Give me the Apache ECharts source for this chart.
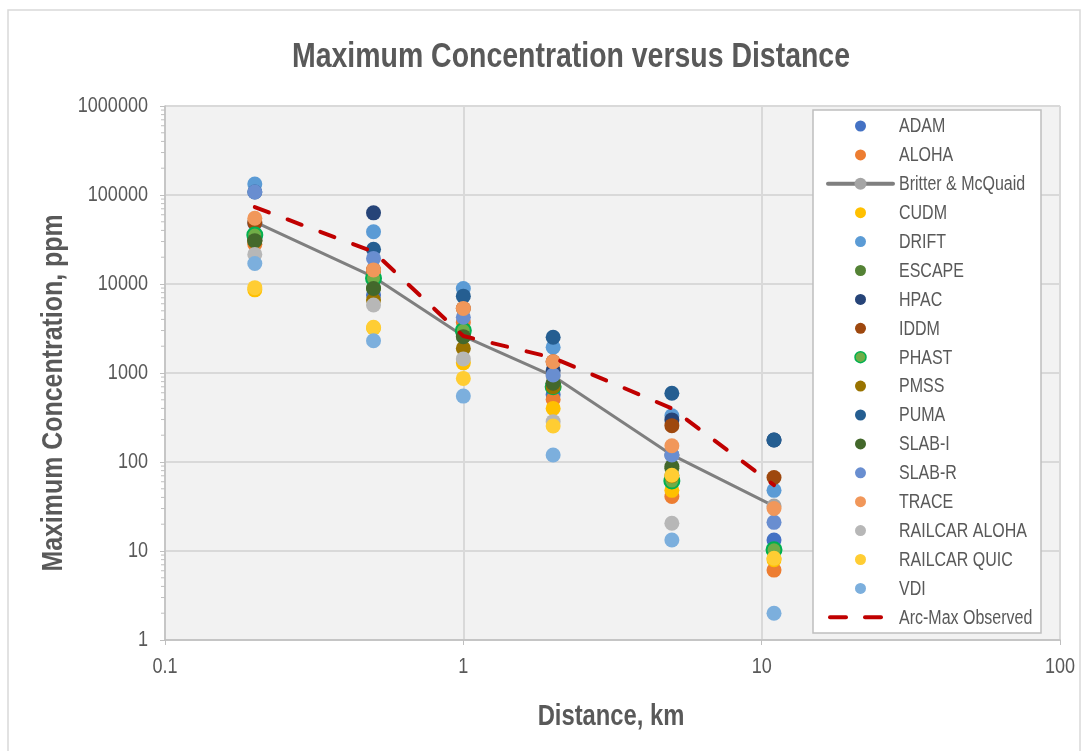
<!DOCTYPE html>
<html>
<head>
<meta charset="utf-8">
<script src="https://cdn.jsdelivr.net/npm/echarts@6/dist/echarts.min.js"></script>
<style>html,body{margin:0;padding:0;background:#fff}#c{width:1086px;height:751px}</style>
</head>
<body>
<div id="c"></div>
<script>
// Distances (km)
const distances = [0.2, 0.5, 1, 2, 5, 11];
// Maximum concentration (ppm) per model, one value per distance (null = not plotted)
const ADAM          = [48000, 7500, 2900, 570, 120, 13.3];
const ALOHA         = [28000, 14000, 3700, 505, 41, 6.1];
const BRITTER       = [50000, 12000, 2600, 925, 120, 32];
const CUDM          = [8600, 3200, 1300, 400, 48, 8];
const DRIFT         = [133000, 38700, 8900, 1950, 331, 48];
const ESCAPE        = [32000, 9000, 3040, 760, 85, null];
const HPAC          = [31000, 63000, 2900, 1070, 297, 177];
const IDDM          = [48800, 14400, 5300, 1340, 256, 67];
const PHAST         = [35500, 11600, 3000, 700, 61, 10.3];
const PMSS          = [30000, 6600, 1890, 700, 70, null];
const PUMA          = [108000, 24500, 7300, 2520, 592, 177];
const SLAB_I        = [30700, 8900, 2560, 766, 89, null];
const SLAB_R        = [108000, 19400, 4230, 950, 120, 21];
const TRACE         = [54700, 14400, 5300, 1340, 152, 30];
const RAILCAR_ALOHA = [21500, 5800, 1440, 284, 20.5, null];
const RAILCAR_QUIC  = [9100, 3260, 870, 254, 71, 8.3];
const VDI           = [17000, 2300, 550, 120, 13.3, 2.0];
const ARC_MAX       = [73000, 23000, 2600, 1480, 400, 55];
// Axis ticks
const xTicks = [0.1, 1, 10, 100];
const xTickLabels = ['0.1', '1', '10', '100'];
const yTicks = [1, 10, 100, 1000, 10000, 100000, 1000000];
const yTickLabels = ['1', '10', '100', '1000', '10000', '100000', '1000000'];
const minorMultipliers = [2, 3, 4, 5, 6, 7, 8, 9];

const FONT = "'Liberation Sans',Arial,sans-serif";
const NARROW_SCALE = 0.82;
const TXT = '#595959';

const seriesDefs = [
  ['ADAM', ADAM, '#4472C4'],
  ['ALOHA', ALOHA, '#ED7D31'],
  ['Britter & McQuaid', BRITTER, '#A5A5A5'],
  ['CUDM', CUDM, '#FFC000'],
  ['DRIFT', DRIFT, '#5B9BD5'],
  ['ESCAPE', ESCAPE, '#548235'],
  ['HPAC', HPAC, '#264478'],
  ['IDDM', IDDM, '#9E480E'],
  ['PHAST', PHAST, '#70AD47'],
  ['PMSS', PMSS, '#997300'],
  ['PUMA', PUMA, '#255E91'],
  ['SLAB-I', SLAB_I, '#43682B'],
  ['SLAB-R', SLAB_R, '#698ED0'],
  ['TRACE', TRACE, '#F1975A'],
  ['RAILCAR ALOHA', RAILCAR_ALOHA, '#B7B7B7'],
  ['RAILCAR QUIC', RAILCAR_QUIC, '#FFCD33'],
  ['VDI', VDI, '#7CAFDD'],
  ['Arc-Max Observed', ARC_MAX, '#C00000']
];
const PHAST_BORDER = '#00B050';
const LINE_GRAY = '#7F7F7F';
const DASH = [15, 20];

function pairs(vals){
  const out = [];
  vals.forEach((v,i)=>{ if(v!=null) out.push([distances[i], v]); });
  return out;
}

const series = [];
// minor ticks on the y axis (2..9 within each decade)
const minorData = [];
yTicks.slice(0,-1).forEach(d=>minorMultipliers.forEach(m=>minorData.push([xTicks[0], d*m])));
series.push({
  type:'custom', silent:true, z:1, clip:false,
  data: minorData,
  renderItem:(params, api)=>{
    const p = api.coord([api.value(0), api.value(1)]);
    return {type:'line', shape:{x1:p[0]-4, y1:p[1], x2:p[0], y2:p[1]}, style:{stroke:'#BFBFBF', lineWidth:1}};
  }
});

seriesDefs.forEach(([name, vals, color])=>{
  if(name === 'Britter & McQuaid'){
    series.push({
      name, type:'line', data:pairs(vals), symbol:'circle', symbolSize:15,
      itemStyle:{color}, lineStyle:{color:LINE_GRAY, width:3}, z:2
    });
  } else if(name === 'Arc-Max Observed'){
    series.push({
      name, type:'line', data:pairs(vals), symbol:'none',
      itemStyle:{color}, lineStyle:{color, width:4, type:DASH, cap:'round'}, z:3
    });
  } else {
    const s = {
      name, type:'scatter', data:pairs(vals), symbol:'circle', symbolSize:15,
      itemStyle:{color, opacity:1}, z:2
    };
    if(name === 'PHAST'){ s.itemStyle.borderColor = PHAST_BORDER; s.itemStyle.borderWidth = 2; }
    series.push(s);
  }
});

const chart = echarts.init(document.getElementById('c'), null, {renderer:'canvas'});
chart.setOption({
  animation:false,
  backgroundColor:'#ffffff',
  grid:{left:165, top:106, right:26, bottom:111, show:true, backgroundColor:'#F2F2F2', borderWidth:0},
  xAxis:{
    type:'log', logBase:10, min:xTicks[0], max:xTicks[xTicks.length-1],
    axisLine:{show:true, onZero:false, lineStyle:{color:'#BFBFBF', width:1.5}},
    axisTick:{show:true, length:5, lineStyle:{color:'#BFBFBF'}},
    splitLine:{show:true, lineStyle:{color:'#D9D9D9', width:2}},
    axisLabel:{show:false}
  },
  yAxis:{
    type:'log', logBase:10, min:yTicks[0], max:yTicks[yTicks.length-1],
    axisLine:{show:true, lineStyle:{color:'#BFBFBF', width:1.5}},
    axisTick:{show:true, length:5, lineStyle:{color:'#BFBFBF'}},
    splitLine:{show:true, lineStyle:{color:'#D9D9D9', width:2}},
    axisLabel:{show:false}
  },
  series
});

// ---- texts (narrow look via horizontal scaling) ----
function ntext(x, y, text, size, opts){
  opts = opts || {};
  return {
    type:'text', x, y, scaleX: NARROW_SCALE, z: opts.z || 10, silent:true,
    style:{text, font:(opts.bold?'bold ':'')+size+'px '+FONT, fill:TXT,
      align: opts.align || 'left', verticalAlign:'middle'}
  };
}
const g = [];
g.push({type:'rect', shape:{x:8, y:10, width:1072, height:760}, style:{fill:'none', stroke:'#D9D9D9', lineWidth:1.5}, z:-1, silent:true});
g.push(ntext(571, 57, 'Maximum Concentration versus Distance', 34.7, {bold:true, align:'center'}));
g.push(ntext(611, 717, 'Distance, km', 29, {bold:true, align:'center'}));
// rotated: scale along text direction
g.push({type:'text', x:54, y:393, rotation:Math.PI/2, scaleX:NARROW_SCALE, silent:true, z:10,
  style:{text:'Maximum Concentration, ppm', font:'bold 30.4px '+FONT, fill:TXT, align:'center', verticalAlign:'middle'}});

// tick labels placed through the axes' own scales
yTicks.forEach((v,i)=>{
  const p = chart.convertToPixel({gridIndex:0}, [xTicks[0], v]);
  g.push(ntext(p[0]-17, p[1], yTickLabels[i], 22, {align:'right'}));
});
xTicks.forEach((v,i)=>{
  const p = chart.convertToPixel({gridIndex:0}, [v, yTicks[0]]);
  g.push(ntext(p[0], p[1]+27, xTickLabels[i], 22, {align:'center'}));
});

// legend
const LX = 813, LY = 110, LW = 228, LH = 523;
g.push({type:'rect', shape:{x:LX, y:LY, width:LW, height:LH}, style:{fill:'#FFFFFF', stroke:'#BFBFBF', lineWidth:1.5}, z:20, silent:true});
const rowStep = 28.9, row0 = LY + 16, iconL = LX + 15, iconW = 65, iconC = iconL + iconW/2, textX = LX + 86;
seriesDefs.forEach(([name, vals, color], i)=>{
  const y = row0 + i*rowStep;
  if(name === 'Britter & McQuaid'){
    g.push({type:'line', shape:{x1:iconL, y1:y, x2:iconL+iconW, y2:y}, style:{stroke:LINE_GRAY, lineWidth:4, lineCap:'round'}, z:21, silent:true});
    g.push({type:'circle', shape:{cx:iconC, cy:y, r:6}, style:{fill:color}, z:22, silent:true});
  } else if(name === 'Arc-Max Observed'){
    g.push({type:'line', shape:{x1:iconL+2, y1:y, x2:iconL+18, y2:y}, style:{stroke:color, lineWidth:4, lineCap:'round'}, z:21, silent:true});
    g.push({type:'line', shape:{x1:iconL+37, y1:y, x2:iconL+53, y2:y}, style:{stroke:color, lineWidth:4, lineCap:'round'}, z:21, silent:true});
  } else {
    const st = {fill:color};
    if(name === 'PHAST'){ st.stroke = PHAST_BORDER; st.lineWidth = 1.5; }
    g.push({type:'circle', shape:{cx:iconC, cy:y, r:5.5}, style:st, z:21, silent:true});
  }
  g.push(ntext(textX, y+1, name, 19.5, {z:22}));
});

chart.setOption({graphic:g});
</script>
</body>
</html>
